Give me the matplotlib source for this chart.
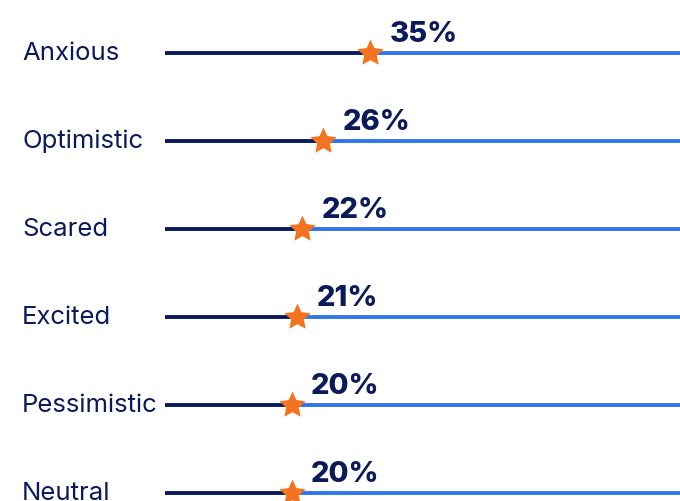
import matplotlib
matplotlib.use('Agg')
import matplotlib.pyplot as plt
from matplotlib.path import Path
import numpy as np

categories = ['Anxious', 'Optimistic', 'Scared', 'Excited', 'Pessimistic', 'Neutral']
values = [35, 26, 22, 21, 20, 20]
value_labels = ['35%', '26%', '22%', '21%', '20%', '20%']

navy = '#0a1a5a'
blue = '#2e76e6'
orange = '#f47321'

plt.rcParams['font.family'] = ['Inter', 'DejaVu Sans']

# slightly fatter five point star than the default '*'
ang = np.pi / 2 + np.arange(10) * np.pi / 5
rad = np.where(np.arange(10) % 2 == 0, 1.0, 0.48)
verts = np.column_stack([rad * np.cos(ang), rad * np.sin(ang)])
verts = np.vstack([verts, verts[0]])
star = Path(verts, [Path.MOVETO] + [Path.LINETO] * 9 + [Path.CLOSEPOLY])

fig = plt.figure(figsize=(6.8, 5.01), dpi=100)
ax = fig.add_axes([0, 0, 1, 1])
ax.set_xlim(-36, 94.5)
ax.set_ylim(5.09, -0.605)
ax.axis('off')

x0, x1 = ax.get_xlim()
start = x0 + (x1 - x0) * 165 / 680

for i, (cat, v, lab) in enumerate(zip(categories, values, value_labels)):
    ax.plot([v, x1], [i, i], color=blue, lw=2.8, solid_capstyle='butt', zorder=1)
    ax.plot([start, v], [i, i], color=navy, lw=2.8, solid_capstyle='butt', zorder=2)
    ax.plot(v, i, marker=star, markersize=20, color=orange, markeredgewidth=0, zorder=3)
    ax.annotate(lab, (v, i), xytext=(14, 8), textcoords='offset points',
                ha='left', va='baseline', fontsize=21, fontweight='heavy', color=navy)
    ax.text(22 / 680, i, cat, transform=ax.get_yaxis_transform(), ha='left', va='center',
            fontsize=18.5, color=navy)

fig.savefig('out.png', dpi=100)
